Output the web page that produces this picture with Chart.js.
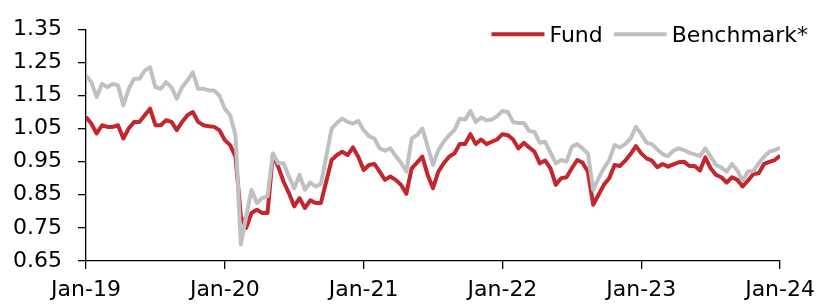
<!DOCTYPE html>
<html>
<head>
<meta charset="utf-8">
<script src="https://cdn.jsdelivr.net/npm/chart.js@4.4.0/dist/chart.umd.min.js"></script>
<style>
  html, body { margin: 0; padding: 0; background: #fff; }
</style>
</head>
<body>
<canvas id="fundChart" width="823" height="306"></canvas>
<script>
// fortnightly readings, Jan-19 .. Jan-24 (26 per year)
const fund = [
  1.085, 1.065, 1.035, 1.06, 1.055, 1.055, 1.06, 1.02, 1.05, 1.07,
  1.07, 1.09, 1.11, 1.06, 1.06, 1.075, 1.07, 1.045, 1.07, 1.09,
  1.10, 1.07, 1.06, 1.057, 1.055, 1.045, 1.015, 1.0, 0.965, 0.785,
  0.75, 0.795, 0.805, 0.795, 0.795, 0.97, 0.935, 0.89, 0.855, 0.815,
  0.84, 0.81, 0.833, 0.825, 0.825, 0.89, 0.955, 0.97, 0.98, 0.97,
  0.993, 0.965, 0.925, 0.94, 0.943, 0.92, 0.895, 0.905, 0.895, 0.88,
  0.853, 0.93, 0.947, 0.965, 0.91, 0.87, 0.92, 0.945, 0.965, 0.975,
  1.003, 1.003, 1.033, 1.003, 1.017, 1.003, 1.01, 1.017, 1.033, 1.03,
  1.017, 0.99, 1.007, 0.993, 0.98, 0.945, 0.953, 0.93, 0.88, 0.9,
  0.903, 0.93, 0.955, 0.947, 0.92, 0.82, 0.85, 0.88, 0.9, 0.94,
  0.937, 0.953, 0.973, 0.997, 0.975, 0.96, 0.953, 0.933, 0.943, 0.935,
  0.942, 0.948, 0.95, 0.937, 0.937, 0.923, 0.963, 0.93, 0.91, 0.903,
  0.887, 0.903, 0.895, 0.875, 0.893, 0.913, 0.915, 0.943, 0.949, 0.955,
  0.968
];
const benchmark = [
  1.21, 1.19, 1.145, 1.185, 1.175, 1.185, 1.18, 1.12, 1.17, 1.20,
  1.20, 1.225, 1.235, 1.175, 1.17, 1.19, 1.175, 1.14, 1.175, 1.195,
  1.22, 1.17, 1.17, 1.165, 1.165, 1.15, 1.11, 1.09, 1.03, 0.70,
  0.785, 0.865, 0.825, 0.84, 0.845, 0.975, 0.945, 0.945, 0.905, 0.87,
  0.91, 0.865, 0.887, 0.875, 0.883, 0.965, 1.05, 1.067, 1.08, 1.07,
  1.065, 1.073, 1.045, 1.027, 1.02, 0.99, 0.983, 0.99, 0.967, 0.947,
  0.92, 1.02, 1.03, 1.05, 0.995, 0.94, 0.985, 1.01, 1.03, 1.045,
  1.08, 1.077, 1.103, 1.07, 1.083, 1.075, 1.077, 1.087, 1.103, 1.10,
  1.07, 1.067, 1.067, 1.043, 1.04, 1.007, 1.01, 0.977, 0.945, 0.955,
  0.95, 0.995, 1.003, 0.99, 0.975, 0.865, 0.9, 0.93, 0.955, 1.0,
  0.993, 1.003, 1.02, 1.055, 1.033, 1.007, 1.003, 0.987, 0.973, 0.967,
  0.983, 0.99, 0.985, 0.977, 0.972, 0.967, 0.99, 0.965, 0.94, 0.932,
  0.92, 0.943, 0.923, 0.893, 0.92, 0.922, 0.945, 0.965, 0.98, 0.985,
  0.992
];
const seriesNames = ['Fund', 'Benchmark*'];
const seriesColors = ['#C4262E', '#C0C0C0'];
const xTicks = [0, 12, 24, 36, 48, 60]; // months since Jan-19
const xTickLabels = ['Jan-19', 'Jan-20', 'Jan-21', 'Jan-22', 'Jan-23', 'Jan-24'];
const yTicks = [0.65, 0.75, 0.85, 0.95, 1.05, 1.15, 1.25, 1.35];

const monthsPerPoint = 12 / 26;
const toPoints = arr => arr.map((v, i) => ({ x: i * monthsPerPoint, y: v }));
const font = { family: '"DejaVu Sans"', size: 22 };

// legend drawn inside the plot, top right
const lineLegend = {
  id: 'lineLegend',
  afterDraw(chart) {
    const ctx = chart.ctx;
    const area = chart.chartArea;
    ctx.save();
    ctx.font = '22px "DejaVu Sans"';
    ctx.textBaseline = 'alphabetic';
    let x = area.right + 28;
    const lineY = area.top + 5;
    const textY = area.top + 13;
    for (let i = seriesNames.length - 1; i >= 0; i--) {
      const w = ctx.measureText(seriesNames[i]).width;
      x -= w;
      ctx.fillStyle = '#000';
      ctx.fillText(seriesNames[i], x, textY);
      x -= 5;
      ctx.strokeStyle = seriesColors[i];
      ctx.lineWidth = 4;
      ctx.beginPath();
      ctx.moveTo(x - 53, lineY);
      ctx.lineTo(x, lineY);
      ctx.stroke();
      x -= 53 + 11;
    }
    ctx.restore();
  }
};

new Chart(document.getElementById('fundChart').getContext('2d'), {
  type: 'line',
  data: {
    datasets: [
      { label: seriesNames[0], data: toPoints(fund), borderColor: seriesColors[0], order: 1 },
      { label: seriesNames[1], data: toPoints(benchmark), borderColor: seriesColors[1], order: 0 }
    ]
  },
  options: {
    responsive: false,
    animation: false,
    parsing: false,
    elements: {
      line: { borderWidth: 4, tension: 0, borderJoinStyle: 'round', fill: false },
      point: { radius: 0 }
    },
    layout: { padding: { top: 27, right: 41, left: 0, bottom: 0 } },
    plugins: { legend: { display: false }, tooltip: { enabled: false } },
    scales: {
      x: {
        type: 'linear',
        min: 0,
        max: 60,
        afterBuildTicks: s => { s.ticks = xTicks.map(v => ({ value: v })); },
        afterFit: s => { s.height = 45; },
        ticks: {
          callback: v => xTickLabels[xTicks.indexOf(v)],
          color: '#000', font, padding: 8, maxRotation: 0, autoSkip: false
        },
        grid: { drawOnChartArea: false, tickLength: 8, color: '#000', lineWidth: 1.3 },
        border: { color: '#000', width: 1.3 }
      },
      y: {
        min: 0.65,
        max: 1.35,
        afterBuildTicks: s => { s.ticks = yTicks.map(v => ({ value: v })); },
        afterFit: s => { s.width = 86; },
        ticks: {
          callback: v => v.toFixed(2),
          color: '#000', font, padding: 16
        },
        grid: { drawOnChartArea: false, tickLength: 8, color: '#000', lineWidth: 1.3 },
        border: { color: '#000', width: 1.3 }
      }
    }
  },
  plugins: [lineLegend]
});
</script>
</body>
</html>
